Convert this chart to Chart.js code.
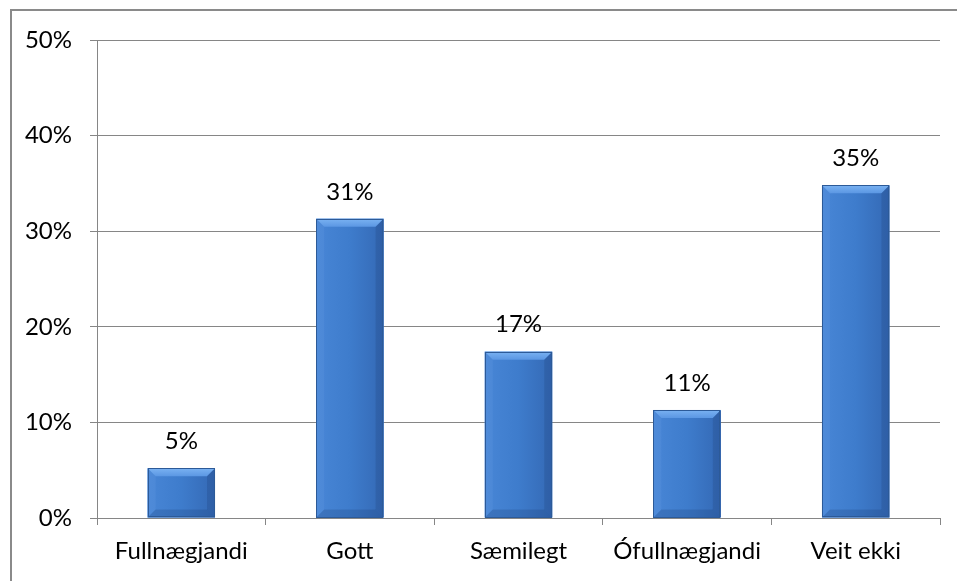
<!DOCTYPE html>
<html>
<head>
<meta charset="utf-8">
<script src="https://cdn.jsdelivr.net/npm/chart.js@4/dist/chart.umd.min.js"></script>
<style>
  html, body { margin: 0; padding: 0; background: #fff; }
  #wrap { position: relative; width: 957px; height: 581px; overflow: hidden; }
  #frame { position: absolute; left: 10px; top: 9px; width: 1000px; height: 1000px;
           border-left: 2px solid #8a8a8a; border-top: 2px solid #8a8a8a; pointer-events: none; }
</style>
</head>
<body>
<div id="wrap">
  <canvas id="chart"></canvas>
  <div id="frame"></div>
</div>
<script>
// --- Data ---
const categories = ['Fullnægjandi', 'Gott', 'Sæmilegt', 'Ófullnægjandi', 'Veit ekki'];
const values = [5.2, 31.3, 17.4, 11.3, 34.8];
const valueLabels = ['5%', '31%', '17%', '11%', '35%'];
const yTicks = [0, 10, 20, 30, 40, 50];

const FONT = { family: 'Lato, "Open Sans", sans-serif', size: 24 };
const GRID = '#868686';

// --- Bevelled bars + value labels ---
const bevelPlugin = {
  id: 'bevel',
  afterDatasetsDraw(chart) {
    const { ctx } = chart;
    const meta = chart.getDatasetMeta(0);
    ctx.save();
    meta.data.forEach((bar, i) => {
      const w = bar.width;
      const l = bar.x - w / 2, r = bar.x + w / 2;
      const t = bar.y, b = bar.base;
      const bv = Math.min(8, (b - t) / 3);

      const g = ctx.createLinearGradient(l, 0, r, 0);
      g.addColorStop(0, '#4886d6');
      g.addColorStop(0.5, '#3e7ccc');
      g.addColorStop(1, '#3469b5');
      ctx.fillStyle = g;
      ctx.fillRect(l, t, w, b - t);

      // top cap
      const gt = ctx.createLinearGradient(0, t, 0, t + bv);
      gt.addColorStop(0, '#7ab2f2');
      gt.addColorStop(1, '#5b97e3');
      ctx.fillStyle = gt;
      ctx.beginPath();
      ctx.moveTo(l, t); ctx.lineTo(r, t); ctx.lineTo(r - bv, t + bv); ctx.lineTo(l + bv, t + bv);
      ctx.closePath(); ctx.fill();

      // left side
      ctx.fillStyle = 'rgba(120,170,235,0.15)';
      ctx.beginPath();
      ctx.moveTo(l, t); ctx.lineTo(l + bv, t + bv); ctx.lineTo(l + bv, b - bv); ctx.lineTo(l, b);
      ctx.closePath(); ctx.fill();

      // right side
      ctx.fillStyle = 'rgba(20,50,100,0.18)';
      ctx.beginPath();
      ctx.moveTo(r, t); ctx.lineTo(r - bv, t + bv); ctx.lineTo(r - bv, b - bv); ctx.lineTo(r, b);
      ctx.closePath(); ctx.fill();

      // bottom
      ctx.fillStyle = 'rgba(20,50,100,0.2)';
      ctx.beginPath();
      ctx.moveTo(l, b); ctx.lineTo(l + bv, b - bv); ctx.lineTo(r - bv, b - bv); ctx.lineTo(r, b);
      ctx.closePath(); ctx.fill();

      ctx.strokeStyle = '#2c5a98';
      ctx.lineWidth = 1;
      ctx.strokeRect(Math.round(l) + 0.5, Math.round(t) + 0.5, Math.round(w) - 1, Math.round(b - t) - 1);

      // value label
      ctx.fillStyle = '#000';
      ctx.font = `${FONT.size}px ${FONT.family}`;
      ctx.textAlign = 'center';
      ctx.textBaseline = 'middle';
      ctx.fillText(valueLabels[i], bar.x, t - 27);
    });
    ctx.restore();
  }
};

new Chart(document.getElementById('chart'), {
  type: 'bar',
  data: {
    labels: categories,
    datasets: [{
      data: values,
      backgroundColor: '#3f7dcd',
      borderWidth: 0,
      categoryPercentage: 1,
      barPercentage: 0.4
    }]
  },
  options: {
    responsive: true,
    maintainAspectRatio: false,
    animation: false,
    layout: { padding: { top: 40, right: 17, left: 0, bottom: 0 } },
    plugins: { legend: { display: false }, tooltip: { enabled: false } },
    scales: {
      x: {
        ticks: { color: '#000', font: FONT, padding: 12, maxRotation: 0 },
        grid: { drawOnChartArea: false, drawTicks: true, tickLength: 7, color: GRID, offset: true },
        border: { color: GRID, width: 1 },
        afterFit: (s) => { s.height = 63; }
      },
      y: {
        min: 0,
        max: 50,
        afterBuildTicks: (s) => { s.ticks = yTicks.map(v => ({ value: v })); },
        ticks: { color: '#000', font: FONT, padding: 18, callback: (v) => v + '%' },
        grid: { color: GRID, tickLength: 7 },
        border: { color: GRID, width: 1 },
        afterFit: (s) => { s.width = 97; }
      }
    }
  },
  plugins: [bevelPlugin]
});
</script>
</body>
</html>
